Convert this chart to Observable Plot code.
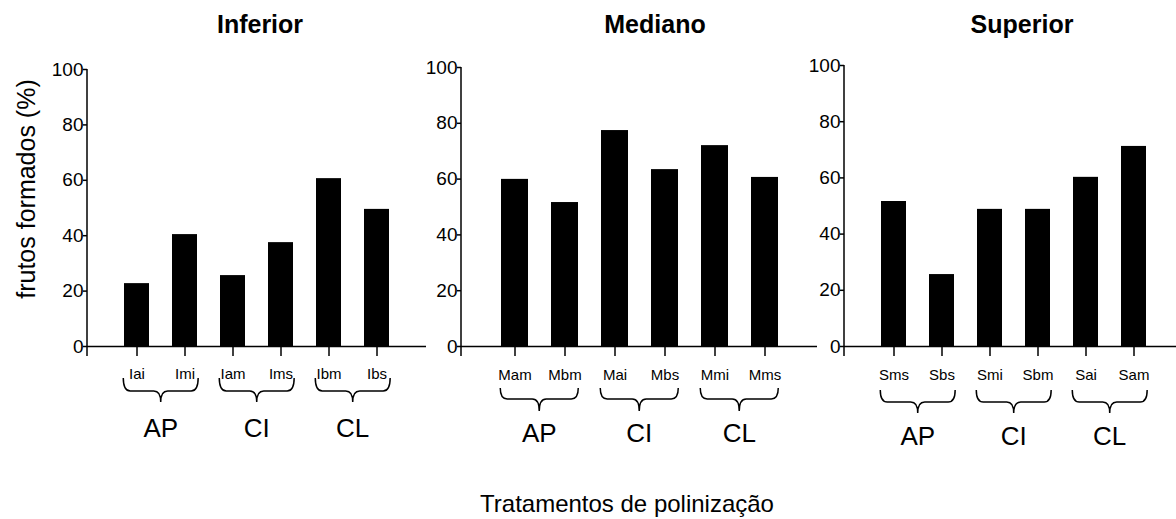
<!DOCTYPE html>
<html><head><meta charset="utf-8">
<script src="https://cdn.jsdelivr.net/npm/d3@7"></script>
<script src="https://cdn.jsdelivr.net/npm/@observablehq/plot@0.6"></script>
<style>
html,body{margin:0;padding:0;background:#fff;overflow:hidden;}
#root{position:relative;width:1176px;height:519px;overflow:hidden;font-family:"Liberation Sans",Arial,sans-serif;color:#000;}
.panel{position:absolute;left:0;top:0;}
.title{position:absolute;font-weight:bold;font-size:25px;line-height:1;transform:translateX(-50%);white-space:nowrap;}
.xtitle{position:absolute;font-size:24px;line-height:1;transform:translateX(-50%);white-space:nowrap;}
.ytitle{position:absolute;font-size:25px;line-height:1;transform:translate(-50%,-50%) rotate(-90deg);white-space:nowrap;}
</style></head><body><div id="root"></div>
<script>
// ---- data ----
const inferiorCats = ["Iai", "Imi", "Iam", "Ims", "Ibm", "Ibs"];
const inferiorValues = [22.7, 40.4, 25.6, 37.5, 60.6, 49.5];
const medianoCats = ["Mam", "Mbm", "Mai", "Mbs", "Mmi", "Mms"];
const medianoValues = [59.9, 51.6, 77.4, 63.4, 72.0, 60.6];
const superiorCats = ["Sms", "Sbs", "Smi", "Sbm", "Sai", "Sam"];
const superiorValues = [51.6, 25.6, 48.8, 48.8, 60.2, 71.2];
const groups = ["AP", "CI", "CL"];
const yTicks = [0, 20, 40, 60, 80, 100];
const panelTitles = ["Inferior", "Mediano", "Superior"];
const yTitle = "frutos formados (%)";
const xTitle = "Tratamentos de polinização";

// ---- layout ----
const H = 519, zeroY = 346;
const layout = [
  {axisX: 87, endX: 426, top: 69, titleX: 260, braceTop: 378, braceMid: 391, braceTip: 402, groupY: 428, tickPad: 12},
  {axisX: 461, endX: 817, top: 67, titleX: 655, braceTop: 388, braceMid: 399, braceTip: 411, groupY: 433, tickPad: 13},
  {axisX: 844, endX: 1183, top: 65, titleX: 1022, braceTop: 390, braceMid: 402, braceTip: 413, groupY: 436, tickPad: 13}
];
const series = [
  {cats: inferiorCats, values: inferiorValues},
  {cats: medianoCats, values: medianoValues},
  {cats: superiorCats, values: superiorValues}
];
const FONT = '"Liberation Sans", Arial, sans-serif';
const root = document.getElementById("root");
const pi = 0.47;

series.forEach((s, k) => {
  const L = layout[k];
  const data = s.cats.map((c, i) => ({cat: c, value: s.values[i]}));
  const extras = (index, scales, values, dims) => {
    const g = d3.create("svg:g").attr("fill", "none").attr("stroke", "black").attr("stroke-width", 1.5);
    // y axis line (extends slightly below zero)
    g.append("line").attr("x1", dims.marginLeft).attr("x2", dims.marginLeft)
      .attr("y1", scales.y(100)).attr("y2", scales.y(0) + 10);
    const step = scales.x(s.cats[1]) - scales.x(s.cats[0]);
    const bw = step * (1 - pi);
    const cx = c => scales.x(c) + bw / 2;
    groups.forEach((grp, j) => {
      const a = cx(s.cats[2 * j]), b = cx(s.cats[2 * j + 1]);
      const x0 = a - 0.28 * step, x1 = b + 0.28 * step, c = (a + b) / 2;
      const y0 = L.braceTop, y1 = L.braceMid, y2 = L.braceTip, r = 7;
      const path = `M${x0},${y0} Q${x0},${y1} ${x0 + r},${y1} L${c - r},${y1} Q${c},${y1} ${c},${y2} ` +
        `Q${c},${y1} ${c + r},${y1} L${x1 - r},${y1} Q${x1},${y1} ${x1},${y0}`;
      g.append("path").attr("d", path);
      g.append("text").attr("x", c).attr("y", L.groupY).attr("dy", "0.35em")
        .attr("text-anchor", "middle").attr("fill", "black").attr("stroke", "none")
        .attr("font-size", 26).attr("font-family", FONT).text(grp);
    });
    return g.node();
  };
  const chart = Plot.plot({
    width: L.endX, height: H,
    marginLeft: L.axisX, marginRight: 0, marginTop: L.top, marginBottom: H - zeroY,
    style: {background: "transparent", overflow: "visible", maxWidth: "none", fontFamily: FONT, color: "black"},
    x: {type: "band", domain: s.cats, paddingInner: pi, paddingOuter: 1 - (1 - pi) / 2},
    y: {domain: [0, 100]},
    marks: [
      Plot.barY(data, {x: "cat", y: "value", fill: "black"}),
      Plot.ruleY([0], {stroke: "black", strokeWidth: 1.5}),
      Plot.axisX({tickSize: 10, tickPadding: L.tickPad, fontSize: 15, strokeWidth: 1.5, label: null}),
      Plot.axisY({ticks: yTicks, tickSize: 4, tickPadding: 0, fontSize: 19, strokeWidth: 1.5, label: null}),
      extras
    ]
  });
  chart.classList.add("panel");
  root.appendChild(chart);
  const t = document.createElement("div");
  t.className = "title";
  t.style.left = L.titleX + "px";
  t.style.top = "12px";
  t.textContent = panelTitles[k];
  root.appendChild(t);
});

const yt = document.createElement("div");
yt.className = "ytitle";
yt.style.left = "26px"; yt.style.top = "189px";
yt.textContent = yTitle;
root.appendChild(yt);

const xt = document.createElement("div");
xt.className = "xtitle";
xt.style.left = "627px"; xt.style.top = "492px";
xt.textContent = xTitle;
root.appendChild(xt);
</script>
</body></html>
